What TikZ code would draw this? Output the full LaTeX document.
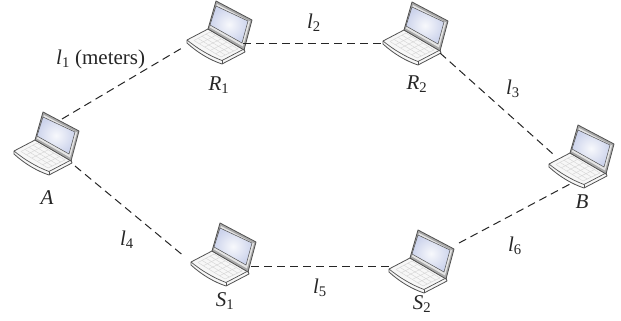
\documentclass[tikz,border=0pt]{standalone}
\usepackage{fontspec}
\setmainfont{Liberation Serif}
\usetikzlibrary{calc}
\definecolor{lapedge}{gray}{0.32}
\definecolor{lapbody}{gray}{0.97}
\definecolor{lapkey}{gray}{0.84}
\definecolor{lapbezel}{gray}{0.66}
\definecolor{lapscreen}{RGB}{205,212,236}
\tikzset{
  x=1pt,y=-1pt,
  link/.style={draw=black!85,line width=1pt,dash pattern=on 8pt off 5pt},
  lab/.style={font=\fontsize{21}{23}\selectfont\itshape,inner sep=0pt,text=black!85},
  laptop/.pic={
    % base
    \draw[lapedge,line width=0.8pt,line join=round,fill=lapbody]
      (-31,6) -- (-31,9) .. controls (-20,19) and (-8,26) .. (4,30) -- (27,18) -- (26,15) -- (-10,-5) -- cycle;
    \draw[lapedge,line width=0.7pt] (-31,6) .. controls (-20,15) and (-8,22) .. (4,26.5) -- (26,15);
    \draw[lapedge,line width=0.5pt] (4,26.5) -- (4,30);
    % keyboard
    \coordinate (k1) at (-24,6.5); \coordinate (k2) at (-8,-2); \coordinate (k3) at (20,15); \coordinate (k4) at (3,23);
    \foreach \t in {0,0.2,0.4,0.6,0.8,1}{
      \draw[lapkey,line width=0.45pt] ($(k1)!\t!(k4)$) -- ($(k2)!\t!(k3)$);}
    \foreach \t in {0,0.25,0.5,0.75,1}{
      \draw[lapkey,line width=0.45pt] ($(k1)!\t!(k2)$) -- ($(k4)!\t!(k3)$);}
    % lid
    \draw[lapedge,line width=0.8pt,line join=round,fill=lapbezel]
      (-10,-5) -- (-2,-33) -- (34,-14) -- (26,16) -- cycle;
    \fill[white!90!black] (-8,-6.5) -- (-1,-30) -- (32,-12.5) -- (25,12.5) -- cycle;
    \draw[lapedge,line width=0.5pt,inner color=white!85!lapscreen,outer color=lapscreen]
      (-8,-9) -- (-2,-28) -- (30,-13) -- (24,9) -- cycle;
    \coordinate (-top) at (17,-26);
    \coordinate (-inl) at (-36,14);
    \coordinate (-outr) at (25,10);
    \coordinate (-inr) at (-31,9);
    \coordinate (-corner) at (26,18);
    \coordinate (-outlow) at (30,21);
    \coordinate (-ina) at (-37,1);
    \coordinate (-outs) at (29,10);
    \coordinate (-ins) at (-30,3);
    \coordinate (-outup) at (39,-20);
    \coordinate (-inb) at (-27,-4);
    \coordinate (-bot) at (-8,25);
  }
}
\begin{document}
\begin{tikzpicture}
\useasboundingbox[fill=white] (0,0) rectangle (621,321);
\pic (A)  at (45,145)  {laptop};
\pic (R1) at (218,34)  {laptop};
\pic (R2) at (414,35)  {laptop};
\pic (B)  at (580,158) {laptop};
\pic (S1) at (222,256) {laptop};
\pic (S2) at (420,263) {laptop};
\draw[link] (A-top) -- (R1-inl);
\draw[link] (R1-outr) -- (R2-inr);
\draw[link] (R2-corner) -- (B-inb);
\draw[link] (A-outlow) -- (S1-ina);
\draw[link] (S1-outs) -- (S2-ins);
\draw[link] (S2-outup) -- (B-bot);
\node[lab] (nA) at (47,198) {A};
\node[lab] (nB) at (582,202) {B};
\node[lab] (nR1) at (219,85) {R\textsubscript{\upshape 1}};
\node[lab] (nR2) at (417,84) {R\textsubscript{\upshape 2}};
\node[lab] (nS1) at (225,301) {S\textsubscript{\upshape 1}};
\node[lab] (nS2) at (422,304) {S\textsubscript{\upshape 2}};
\node[lab,anchor=west] (l1) at (56,59) {l\textsubscript{\upshape 1}\upshape{} (meters)};
\node[lab] (l2) at (314,23) {l\textsubscript{\upshape 2}};
\node[lab] (l3) at (513,89) {l\textsubscript{\upshape 3}};
\node[lab] (l4) at (127,240) {l\textsubscript{\upshape 4}};
\node[lab] (l5) at (320,288) {l\textsubscript{\upshape 5}};
\node[lab] (l6) at (515,246) {l\textsubscript{\upshape 6}};
\end{tikzpicture}
\end{document}
